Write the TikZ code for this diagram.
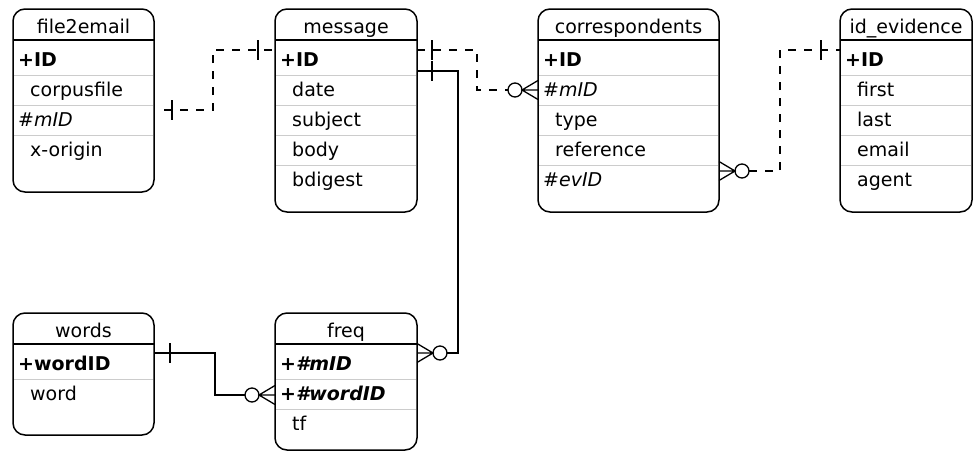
\documentclass[tikz,border=0pt]{standalone}
\usepackage{fontspec}
\setmainfont{DejaVu Sans}
\usepackage{tikz}
\usetikzlibrary{calc}

\tikzset{
  entity/.style={draw, line width=1.5pt, rounded corners=12pt, anchor=north west, inner sep=0pt, outer sep=0pt},
  headtext/.style={anchor=base, inner sep=0pt, font=\fontsize{19}{22}\selectfont},
  field/.style={anchor=base west, inner sep=0pt, font=\fontsize{19}{22}\selectfont},
  headline/.style={line width=1.2pt},
  rowline/.style={line width=1pt, gray!40},
  link/.style={line width=1.3pt},
  optional/.style={link, dash pattern=on 8pt off 8pt},
  crowzero/.pic={
    \draw[link] (0,-9.5) -- (16,0) -- (0,9.5) (0,0) -- (16,0);
    \draw[link] (23,0) circle (7pt);
  }
}

\begin{document}
\begin{tikzpicture}[x=1pt, y=-1pt]
  \useasboundingbox (0,0) rectangle (973,453);

  % tables
  \foreach \n/\x/\y/\w/\h in {file2email/13/9/141/183, message/275/9/142/203,
      correspondents/538/9/181/203, evidence/840/9/132/203,
      words/13/313/141/122, freq/275/313/142/137}
    \node[entity, minimum width=\w*1pt, minimum height=\h*1pt] (\n) at (\x,\y) {};

  \foreach \n/\t in {file2email/file2email, message/message,
      correspondents/correspondents, evidence/id\_evidence, words/words, freq/freq} {
    \node[headtext] (\n-head) at ($(\n.north)+(0,24)$) {\t};
    \draw[headline] ($(\n.north west)+(0,31)$) -- ($(\n.north east)+(0,31)$);
  }

  \foreach \n/\k in {file2email/3, message/4, correspondents/4, evidence/4, words/1, freq/2}
    \foreach \i in {1,...,\k}
      \draw[rowline] ($(\n.north west)+(0.75,36+30*\i)$) -- ($(\n.north east)+(-0.75,36+30*\i)$);

  % fields
  \foreach \dx/\t [count=\i] in {5/\textbf{+ID}, 17/corpusfile, 5/\#\textit{mID}, 17/x-origin}
    \node[field] (file2email-\i) at ($(file2email.north west)+(\dx,27+30*\i)$) {\t};
  \foreach \dx/\t [count=\i] in {5/\textbf{+ID}, 17/date, 17/subject, 17/body, 17/bdigest}
    \node[field] (message-\i) at ($(message.north west)+(\dx,27+30*\i)$) {\t};
  \foreach \dx/\t [count=\i] in {5/\textbf{+ID}, 5/\#\textit{mID}, 17/type, 17/reference, 5/\#\textit{evID}}
    \node[field] (correspondents-\i) at ($(correspondents.north west)+(\dx,27+30*\i)$) {\t};
  \foreach \dx/\t [count=\i] in {5/\textbf{+ID}, 17/first, 17/last, 17/email, 17/agent}
    \node[field] (evidence-\i) at ($(evidence.north west)+(\dx,27+30*\i)$) {\t};
  \foreach \dx/\t [count=\i] in {5/\textbf{+wordID}, 17/word}
    \node[field] (words-\i) at ($(words.north west)+(\dx,27+30*\i)$) {\t};
  \foreach \dx/\t [count=\i] in {5/\textbf{+\textit{\#mID}}, 5/\textbf{+\textit{\#wordID}}, 17/tf}
    \node[field] (freq-\i) at ($(freq.north west)+(\dx,27+30*\i)$) {\t};

  % file2email -- message
  \draw[optional] ($(file2email.north east)+(10,101)$) -- ++(49,0) |- ($(message.north west)+(0,41)$);
  \draw[link] ($(file2email.north east)+(18,91)$) -- ++(0,20);
  \draw[link] ($(message.north west)+(-17,31)$) -- ++(0,20);

  % message -- correspondents
  \draw[optional] ($(message.north east)+(0,41)$) -- ++(60,0) |- ($(correspondents.north west)+(-30,81)$);
  \draw[link] ($(message.north east)+(15,31)$) -- ++(0,20);
  \pic[rotate=180] at ($(correspondents.north west)+(0,81)$) {crowzero};

  % correspondents -- id_evidence
  \draw[optional] ($(correspondents.north east)+(30,162)$) -- ++(31,0) |- ($(evidence.north west)+(0,41)$);
  \draw[link] ($(evidence.north west)+(-19,31)$) -- ++(0,20);
  \pic at ($(correspondents.north east)+(0,162)$) {crowzero};

  % message -- freq
  \draw[link] ($(message.north east)+(0,62)$) -- ++(41,0) |- ($(freq.north east)+(30,40)$);
  \draw[link] ($(message.north east)+(15,52)$) -- ++(0,20);
  \pic at ($(freq.north east)+(0,40)$) {crowzero};

  % words -- freq
  \draw[link] ($(words.north east)+(0,40)$) -- ++(61,0) |- ($(freq.north west)+(-30,82)$);
  \draw[link] ($(words.north east)+(16,30)$) -- ++(0,20);
  \pic[rotate=180] at ($(freq.north west)+(0,82)$) {crowzero};
\end{tikzpicture}
\end{document}
